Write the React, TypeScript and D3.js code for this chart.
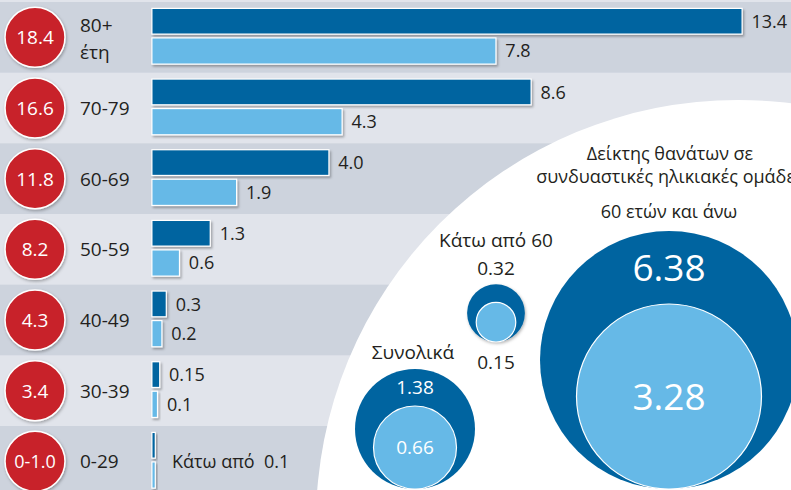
import React, { useEffect } from 'react';
import * as d3 from 'd3';

// ---- Data ----
const ageLabels: string[][] = [['80+', 'έτη'], ['70-79'], ['60-69'], ['50-59'], ['40-49'], ['30-39'], ['0-29']];
const redLabels = ['18.4', '16.6', '11.8', '8.2', '4.3', '3.4', '0-1.0'];
const darkValues = [13.4, 8.6, 4.0, 1.3, 0.3, 0.15, 0.05];
const lightValues = [7.8, 4.3, 1.9, 0.6, 0.2, 0.1, 0.05];
const darkLabels = ['13.4', '8.6', '4.0', '1.3', '0.3', '0.15', ''];
const lightLabels = ['7.8', '4.3', '1.9', '0.6', '0.2', '0.1', ''];
const lowNote = 'Κάτω από  0.1';

const bubbleNames = ['Συνολικά', 'Κάτω από 60', '60 ετών και άνω'];
const bubbleOuter = [1.38, 0.32, 6.38];
const bubbleInner = [0.66, 0.15, 3.28];
const bubbleOuterLabels = ['1.38', '0.32', '6.38'];
const bubbleInnerLabels = ['0.66', '0.15', '3.28'];
const titleLines = ['Δείκτης θανάτων σε', 'συνδυαστικές ηλικιακές ομάδες'];

// ---- Styles ----
const W = 791, H = 490;
const DARK = '#0064a0';
const LIGHT = '#66b9e7';
const RED = '#c8242b';
const BAND_DARK = '#cdd3dd';
const BAND_LIGHT = '#e1e4eb';
const TEXT = '#231f20';
const FONT = '"Open Sans", "Noto Sans", sans-serif';

function Bar({ x0, x1, y, h, fill }: { x0: number; x1: number; y: number; h: number; fill: string }) {
  const b = 1.2;
  return (
    <g>
      <rect x={x0 - b} y={y - b} width={x1 - x0 + 2 * b} height={h + 2 * b} fill="#fff" filter="url(#sh)" />
      <rect x={x0} y={y} width={x1 - x0} height={h} fill={fill} />
    </g>
  );
}

export default function App() {
  useEffect(() => {
    document.body.style.margin = '0';
  }, []);

  const rows = d3.range(ageLabels.length);
  const y = d3.scaleBand<number>().domain(rows).range([2, 2 + 70.67 * 7]).padding(0);
  const x = d3.scaleLinear().domain([0, 13.4]).range([152.5, 741.5]);
  const r = d3.scaleSqrt().domain([0, 6.38]).range([0, 129]);

  const bubbleCx = [415, 496, 669];
  const bubbleBottom = [489, 342, 489];

  return (
    <div style={{ position: 'fixed', left: 0, top: 0 }}>
      <svg width={W} height={H} style={{ display: 'block', fontFamily: FONT }}>
        <defs>
          <filter id="sh" x="-20%" y="-30%" width="160%" height="180%">
            <feDropShadow dx="1.5" dy="2" stdDeviation="1.2" floodColor="#000" floodOpacity="0.3" />
          </filter>
          <filter id="shc" x="-20%" y="-20%" width="140%" height="140%">
            <feDropShadow dx="1" dy="1.5" stdDeviation="1.5" floodColor="#000" floodOpacity="0.3" />
          </filter>
        </defs>
        <rect x={0} y={0} width={W} height={H} fill={BAND_LIGHT} />
        {rows.map((i) => (
          <rect key={'b' + i} x={0} y={y(i)} width={W} height={y.bandwidth() + 0.5}
            fill={i % 2 === 0 ? BAND_DARK : BAND_LIGHT} />
        ))}
        {/* white arc */}
        <circle cx={738} cy={522} r={422} fill="#fff" />

        {rows.map((i) => {
          const top = y(i)!;
          const cy = top + y.bandwidth() / 2;
          return (
            <g key={'r' + i}>
              <circle cx={35} cy={cy} r={30} fill={RED} stroke="#fff" strokeWidth={1.5} filter="url(#shc)" />
              <text x={35} y={cy} dy="0.36em" textAnchor="middle" fill="#fff" fontSize={i === 6 ? 18 : 19}>{redLabels[i]}</text>
              {ageLabels[i].length === 1 ? (
                <text x={80} y={cy} dy="0.36em" fill={TEXT} fontSize={19}>{ageLabels[i][0]}</text>
              ) : (
                <text x={80} y={cy} fill={TEXT} fontSize={19}>
                  <tspan x={80} dy="-0.3em">{ageLabels[i][0]}</tspan>
                  <tspan x={80} dy="1.45em">{ageLabels[i][1]}</tspan>
                </text>
              )}
              <Bar x0={x(0)} x1={x(darkValues[i])} y={top + 7} h={24.5} fill={DARK} />
              <Bar x0={x(0)} x1={x(lightValues[i])} y={top + 36.5} h={25} fill={LIGHT} />
              {darkLabels[i] && (
                <text x={x(darkValues[i]) + 10} y={top + 19.5} dy="0.36em" fill={TEXT} fontSize={18}>{darkLabels[i]}</text>
              )}
              {lightLabels[i] && (
                <text x={x(lightValues[i]) + 10} y={top + 49} dy="0.36em" fill={TEXT} fontSize={18}>{lightLabels[i]}</text>
              )}
              {i === 6 && (
                <text x={172} y={cy} dy="0.36em" fill={TEXT} fontSize={18} style={{ whiteSpace: 'pre' }}>{lowNote}</text>
              )}
            </g>
          );
        })}

        {/* bubbles */}
        <text x={670} y={160} textAnchor="middle" fill={TEXT} fontSize={18}>{titleLines[0]}</text>
        <text x={670} y={183} textAnchor="middle" fill={TEXT} fontSize={18}>{titleLines[1]}</text>
        {bubbleNames.map((name, k) => {
          const ro = r(bubbleOuter[k]);
          const ri = r(bubbleInner[k]);
          const cx = bubbleCx[k];
          const bot = bubbleBottom[k];
          const cyo = bot - ro;
          const cyi = bot - ri;
          const ringMid = (bot - 2 * ro + bot - 2 * ri) / 2;
          const big = k === 2;
          const fs = big ? 37 : 19;
          return (
            <g key={'bb' + k}>
              <circle cx={cx} cy={cyo} r={ro} fill={DARK} filter={k === 1 ? 'url(#shc)' : undefined} />
              <circle cx={cx} cy={cyi} r={ri} fill={LIGHT} stroke="#fff" strokeWidth={1.2} />
              {k === 1 ? (
                <>
                  <text x={cx} y={bot - 2 * ro - 37} textAnchor="middle" fill={TEXT} fontSize={19}>{name}</text>
                  <text x={cx} y={bot - 2 * ro - 9} textAnchor="middle" fill={TEXT} fontSize={19}>{bubbleOuterLabels[k]}</text>
                  <text x={cx} y={bot + 27} textAnchor="middle" fill={TEXT} fontSize={19}>{bubbleInnerLabels[k]}</text>
                </>
              ) : (
                <>
                  <text x={cx - (big ? 0 : 2)} y={bot - 2 * ro - (big ? 13 : 10)} textAnchor="middle" fill={TEXT} fontSize={big ? 18 : 19}>{name}</text>
                  <text x={cx} y={ringMid} dy="0.36em" textAnchor="middle" fill="#fff" fontSize={fs}>{bubbleOuterLabels[k]}</text>
                  <text x={cx} y={cyi} dy="0.36em" textAnchor="middle" fill="#fff" fontSize={fs}>{bubbleInnerLabels[k]}</text>
                </>
              )}
            </g>
          );
        })}
      </svg>
    </div>
  );
}
